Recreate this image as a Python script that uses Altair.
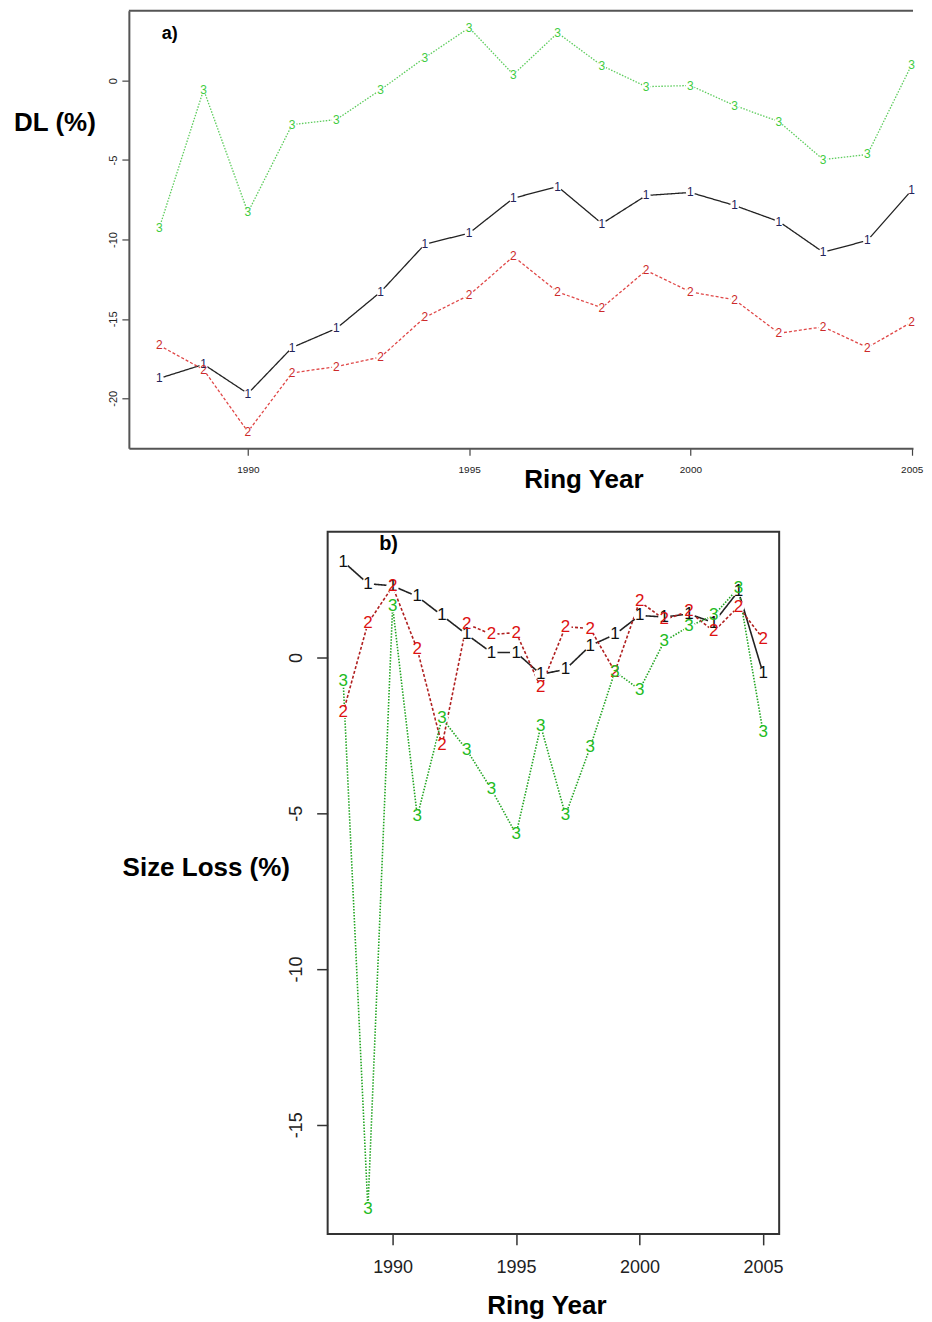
import altair as alt
import pandas as pd

# ---------------- data ----------------
years = list(range(1988, 2006))
series_names = ["1", "2", "3"]

# panel a) DL (%)
a_s1 = [-18.74, -17.86, -19.7, -16.8, -15.6, -13.3, -10.3, -9.6, -7.4, -6.67,
        -9.0, -7.23, -7.04, -7.86, -8.87, -10.8, -10.06, -6.9]
a_s2 = [-16.67, -18.2, -22.1, -18.4, -18.0, -17.4, -14.9, -13.5, -11.07, -13.3,
        -14.3, -11.95, -13.3, -13.8, -15.9, -15.5, -16.8, -15.2]
a_s3 = [-9.25, -0.57, -8.3, -2.77, -2.45, -0.57, 1.45, 3.33, 0.38, 3.0,
        0.94, -0.38, -0.31, -1.57, -2.58, -4.97, -4.65, 1.0]

# panel b) Size Loss (%)
b_s1 = [3.08, 2.37, 2.3, 1.96, 1.35, 0.74, 0.16, 0.16, -0.54, -0.38,
        0.38, 0.74, 1.35, 1.3, 1.4, 1.12, 2.13, -0.51]
b_s2 = [-1.76, 1.1, 2.28, 0.26, -2.82, 1.08, 0.74, 0.8, -0.96, 0.99,
        0.93, -0.45, 1.8, 1.22, 1.48, 0.84, 1.63, 0.6]
b_s3 = [-0.77, -17.7, 1.64, -5.1, -1.95, -2.96, -4.23, -5.67, -2.2, -5.06,
        -2.88, -0.45, -1.03, 0.52, 1.0, 1.35, 2.23, -2.4]

x_ticks = [1990, 1995, 2000, 2005]
a_y_ticks = [-20, -15, -10, -5, 0]
b_y_ticks = [-15, -10, -5, 0]


def long_df(s1, s2, s3):
    rows = []
    for name, vals in zip(series_names, [s1, s2, s3]):
        for yr, v in zip(years, vals):
            rows.append({"year": yr, "value": v, "series": name})
    return pd.DataFrame(rows)


df_a = long_df(a_s1, a_s2, a_s3)
df_b = long_df(b_s1, b_s2, b_s3)
one = pd.DataFrame({"k": [0]})

FONT = "Liberation Sans"
HYPHEN = "'' + datum.value"

# ---------------- panel a ----------------
WA, HA = 785, 438
xa = alt.X(
    "year:Q",
    scale=alt.Scale(domain=[1987.31, 2005.03], nice=False, zero=False),
    axis=alt.Axis(
        values=x_ticks, format="d", grid=False,
        title="Ring Year", titleFont=FONT, titleFontSize=26, titleFontWeight="bold",
        titleColor="black", titleX=455, titleY=31, titleAlign="center",
        titleBaseline="middle", titleAngle=0,
        labelFont=FONT, labelFontSize=10, labelColor="#222", labelPadding=9,
        labelFlush=False, labelOverlap=False,
        tickSize=7, tickColor="#444", tickWidth=1.2,
        domainColor="#555", domainWidth=2,
    ),
)
ya = alt.Y(
    "value:Q",
    scale=alt.Scale(domain=[-23.14, 4.40], nice=False, zero=False),
    axis=alt.Axis(
        values=a_y_ticks, grid=False, labelExpr=HYPHEN,
        title="DL (%)", titleFont=FONT, titleFontSize=26, titleFontWeight="bold",
        titleColor="black", titleX=-74.5, titleY=112, titleAlign="center",
        titleBaseline="middle", titleAngle=0,
        labelFont=FONT, labelFontSize=11, labelColor="#222", labelPadding=3,
        labelAngle=270, labelAlign="center", labelBaseline="bottom",
        labelOverlap=False,
        tickSize=7, tickColor="#444", tickWidth=1.2,
        domainColor="#555", domainWidth=2,
    ),
)

base_a = alt.Chart(df_a).encode(x=xa, y=ya)
lines_a = base_a.mark_line(strokeWidth=1.3).encode(
    color=alt.Color("series:N", scale=alt.Scale(domain=series_names,
                    range=["#222222", "#e04848", "#5ccc5c"]), legend=None),
    strokeDash=alt.StrokeDash("series:N", scale=alt.Scale(domain=series_names,
                              range=[[1, 0], [3, 2], [1.5, 1.5]]), legend=None),
    detail="series:N",
)
gaps_a = base_a.mark_circle(color="white", opacity=1, size=80)
text_a = base_a.mark_text(font=FONT, fontSize=12).encode(
    text="series:N",
    color=alt.Color("series:N", scale=alt.Scale(domain=series_names,
                    range=["#23235a", "#cc2a2a", "#3fcc3f"]), legend=None),
)
frame_top_a = alt.Chart(one).mark_rule(color="#555", strokeWidth=2).encode(
    x=alt.value(0), x2=alt.value(WA), y=alt.value(0)
)
tag_a = alt.Chart(one).mark_text(text="a)", font=FONT, fontSize=18,
                                 fontWeight="bold", color="black").encode(
    x=alt.value(41), y=alt.value(23)
)
panel_a = alt.layer(lines_a, gaps_a, text_a, frame_top_a, tag_a).resolve_scale(
    color="independent"
).properties(width=WA, height=HA, view=alt.ViewBackground(stroke="transparent"))

# ---------------- panel b ----------------
WB, HB = 452, 703
xb = alt.X(
    "year:Q",
    scale=alt.Scale(domain=[1987.37, 2005.65], nice=False, zero=False),
    axis=alt.Axis(
        values=x_ticks, format="d", grid=False,
        title="Ring Year", titleFont=FONT, titleFontSize=26, titleFontWeight="bold",
        titleColor="black", titleX=219, titleY=72, titleAlign="center",
        titleBaseline="middle", titleAngle=0,
        labelFont=FONT, labelFontSize=18, labelColor="#222", labelPadding=14,
        labelFlush=False, labelOverlap=False,
        tickSize=11, tickColor="#333", tickWidth=1.5,
        domain=False,
    ),
)
yb = alt.Y(
    "value:Q",
    scale=alt.Scale(domain=[-18.5, 4.04], nice=False, zero=False),
    axis=alt.Axis(
        values=b_y_ticks, grid=False, labelExpr=HYPHEN,
        title="Size Loss (%)", titleFont=FONT, titleFontSize=26, titleFontWeight="bold",
        titleColor="black", titleX=-122, titleY=336, titleAlign="center",
        titleBaseline="middle", titleAngle=0,
        labelFont=FONT, labelFontSize=18, labelColor="#222", labelPadding=11,
        labelAngle=270, labelAlign="center", labelBaseline="bottom",
        labelOverlap=False,
        tickSize=11, tickColor="#333", tickWidth=1.5,
        domain=False,
    ),
)

base_b = alt.Chart(df_b).encode(x=xb, y=yb)
lines_b = base_b.mark_line(strokeWidth=1.6).encode(
    color=alt.Color("series:N", scale=alt.Scale(domain=series_names,
                    range=["#222222", "#b02020", "#22a522"]), legend=None),
    strokeDash=alt.StrokeDash("series:N", scale=alt.Scale(domain=series_names,
                              range=[[7, 4], [7, 4], [2, 2]]), legend=None),
    detail="series:N",
)
gaps_b = base_b.mark_circle(color="white", opacity=1, size=150)
text_b = base_b.mark_text(font=FONT, fontSize=17).encode(
    text="series:N",
    color=alt.Color("series:N", scale=alt.Scale(domain=series_names,
                    range=["#111111", "#dd1111", "#22bb22"]), legend=None),
)
tag_b = alt.Chart(one).mark_text(text="b)", font=FONT, fontSize=20,
                                 fontWeight="bold", color="black").encode(
    x=alt.value(61), y=alt.value(12)
)
panel_b = alt.layer(lines_b, gaps_b, text_b, tag_b).resolve_scale(
    color="independent"
).properties(width=WB, height=HB,
             view=alt.ViewBackground(stroke="#333", strokeWidth=2))


# invisible spacers used only to offset each row horizontally
def spacer():
    return alt.Chart(one).mark_rule(color="white", strokeWidth=1).encode(
        x=alt.value(0), x2=alt.value(1), y=alt.value(0)
    ).properties(width=1, height=1,
                 view=alt.ViewBackground(stroke="transparent"))


row_a = alt.hconcat(spacer(), panel_a, spacing=0)
row_b = alt.hconcat(spacer(), panel_b, spacing=109)

chart = alt.vconcat(row_a, row_b, spacing=37.5).properties(
    padding={"left": 1, "top": 0, "right": 0, "bottom": 0},
    background="white",
)

chart.save("out.html", embed_options={"renderer": "svg", "actions": False})
